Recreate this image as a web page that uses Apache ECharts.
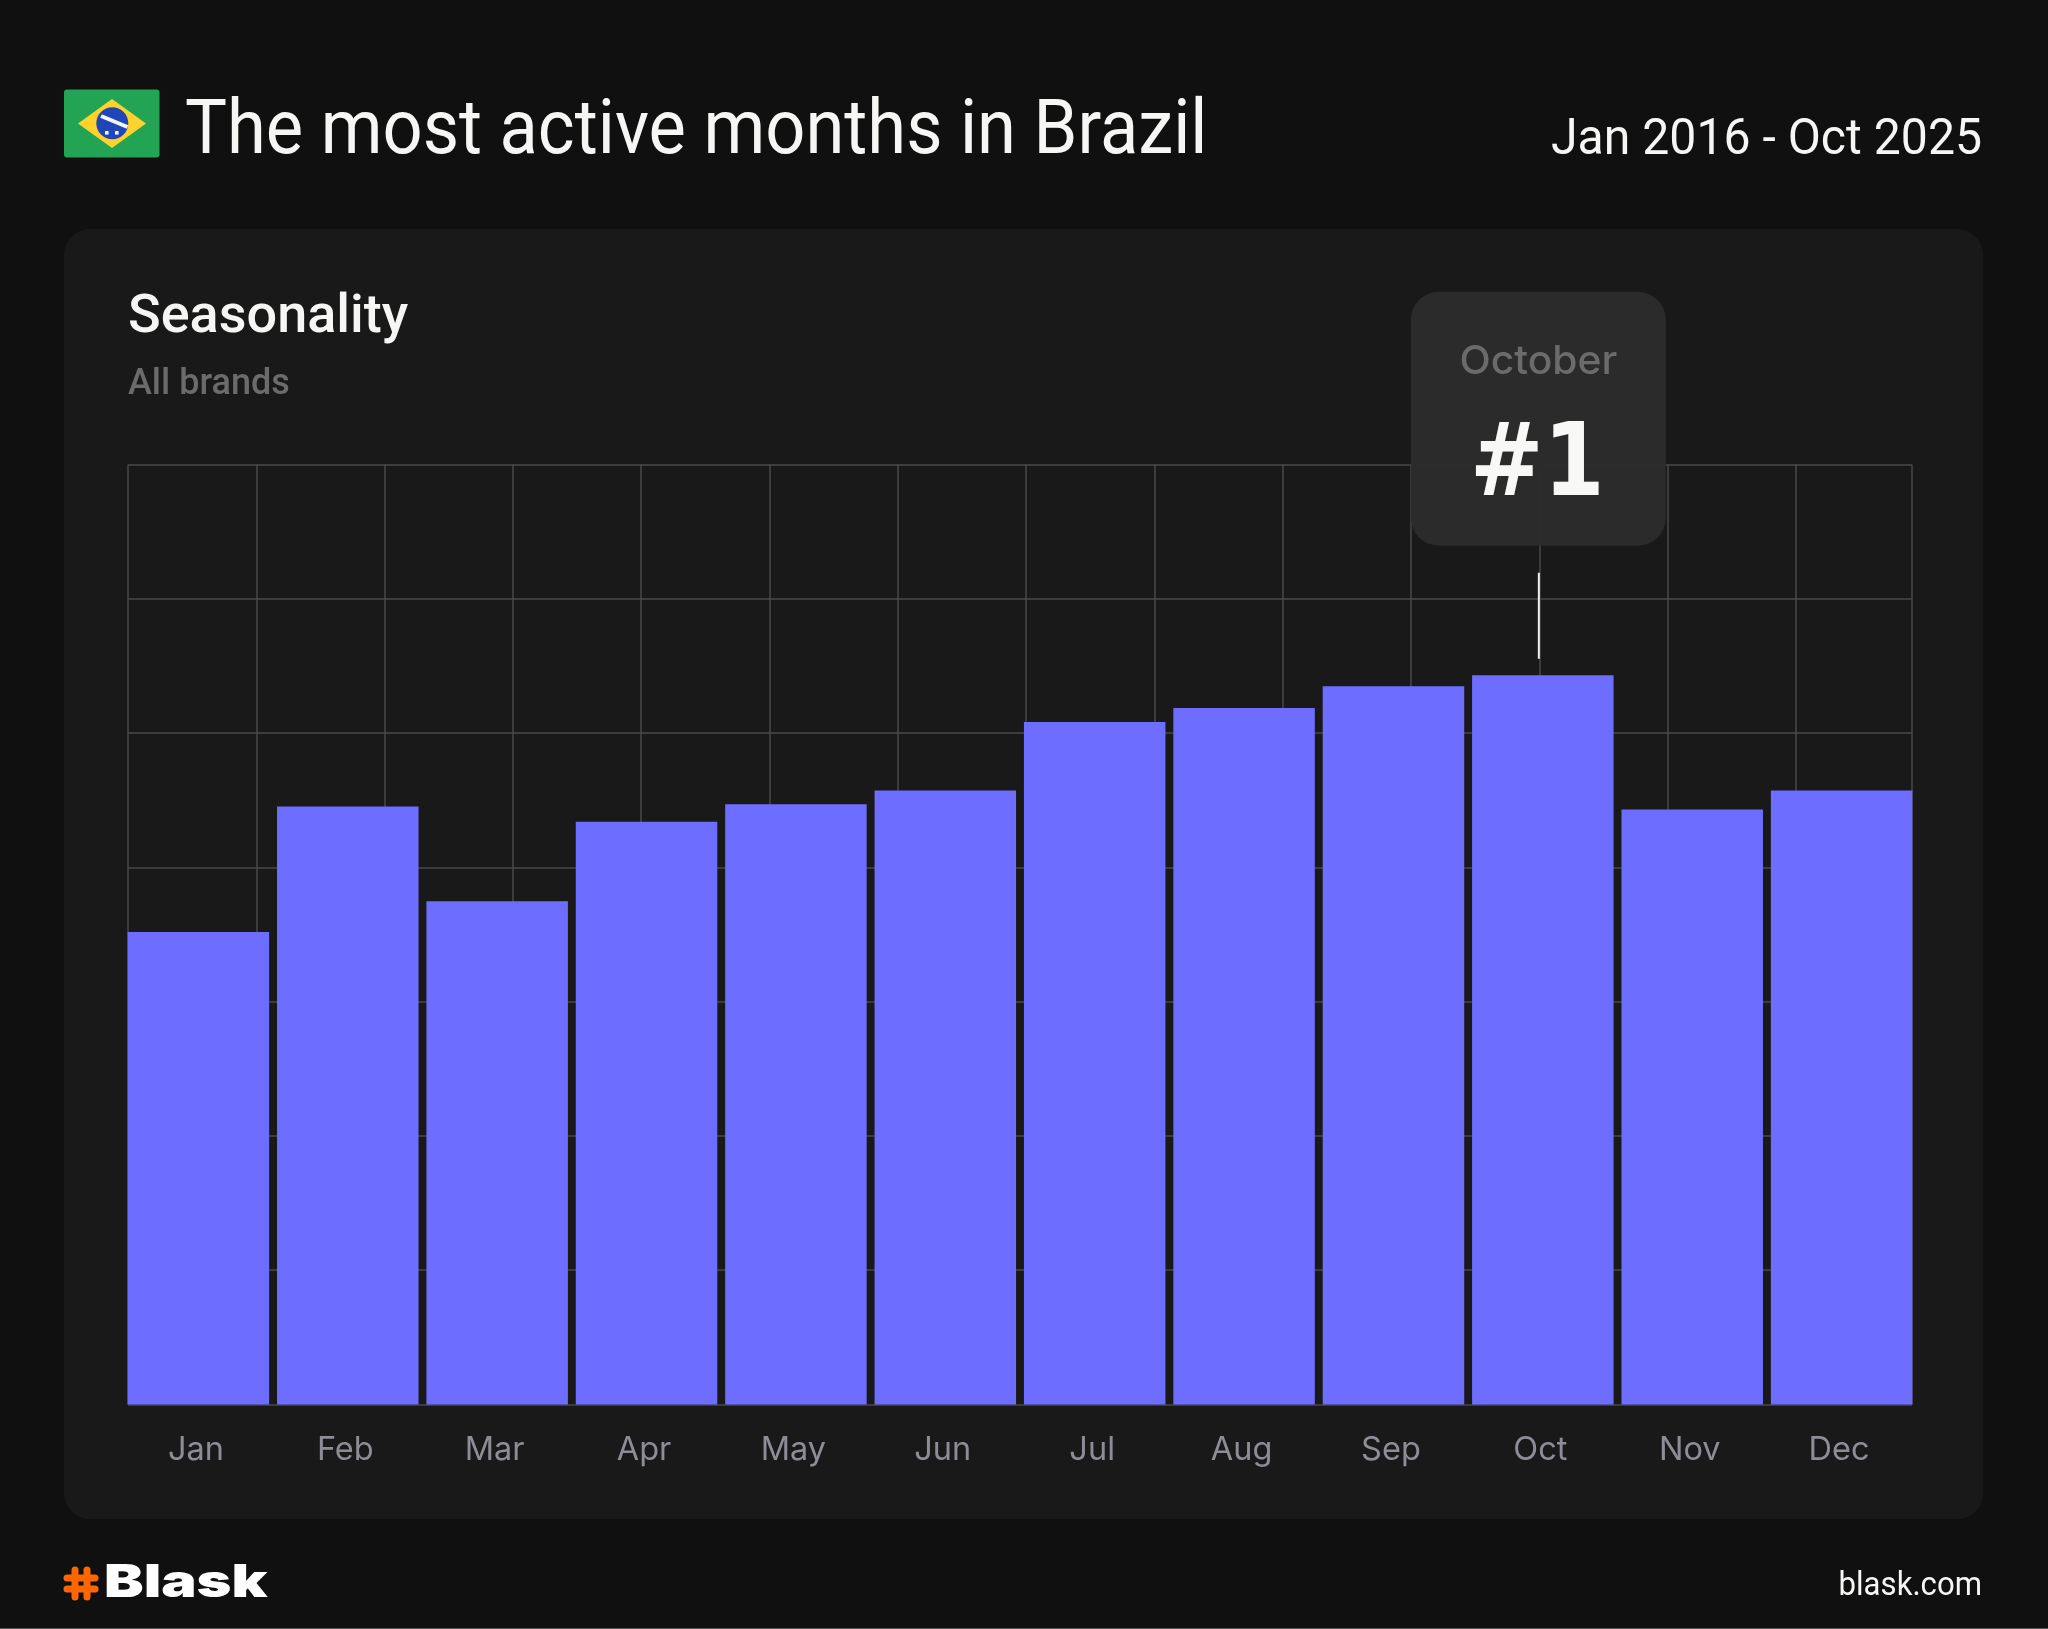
<!DOCTYPE html>
<html>
<head>
<meta charset="utf-8">
<style>html,body{margin:0;padding:0;background:#0f0f10}#c{width:2048px;height:1629px}</style>
<script src="https://cdn.jsdelivr.net/npm/echarts@6/dist/echarts.min.js"></script>
</head>
<body>
<div id="c"></div>
<script>
const months = ['Jan','Feb','Mar','Apr','May','Jun','Jul','Aug','Sep','Oct','Nov','Dec'];
// Seasonality index (October = 100)
const seasonality = [64.8,82.0,69.0,79.9,82.3,84.2,93.6,95.5,98.5,100,81.6,84.2];
const titleText = 'The most active months in Brazil';
const rangeText = 'Jan 2016 - Oct 2025';
const cardTitle = 'Seasonality';
const cardSubtitle = 'All brands';
const peakMonth = 'October';
const peakRank = '#1';
const peakIndex = 9;

const F = 'Inter, "Noto Sans", sans-serif';
const R = 'Roboto, Inter, sans-serif';
function txt(text,x,y,size,weight,color,align,opt){
  opt = opt||{};
  return {type:'text',x:x,y:y,z:opt.z||5,scaleX:opt.scaleX||1,silent:true,
    style:{text:text,x:0,y:0,fontSize:size,fontWeight:weight,fontFamily:opt.family||F,fill:color,
      textAlign:align||'left',textVerticalAlign:'middle'}};
}
function hashLine(x1,y1,x2,y2){
  return {type:'line',z:5,silent:true,shape:{x1,y1,x2,y2},style:{stroke:'#ff6600',lineWidth:7,lineCap:'round'}};
}
const chart = echarts.init(document.getElementById('c'),null,{renderer:'canvas'});
const base = [
  {type:'rect',z:-20,silent:true,shape:{x:64,y:229,width:1919,height:1290,r:26},style:{fill:'#191919'}},
  {type:'rect',z:-20,silent:true,shape:{x:0,y:1628,width:2048,height:1},style:{fill:'#555555'}},
  // flag
  {type:'rect',z:5,silent:true,shape:{x:64,y:89.5,width:95.5,height:68,r:3},style:{fill:'#23a455'}},
  {type:'polygon',z:6,silent:true,shape:{points:[[112,99],[146,123.5],[112,148],[78,123.5]]},style:{fill:'#fdd22c'}},
  {type:'ellipse',z:7,silent:true,shape:{cx:112.3,cy:123.3,rx:16,ry:16},style:{fill:'#1f45b8'}},
  {type:'line',z:8,silent:true,shape:{x1:101,y1:116,x2:127.5,y2:127},style:{stroke:'#f4f4f4',lineWidth:4}},
  {type:'rect',z:8,silent:true,shape:{x:105,y:131,width:3.6,height:3.6},style:{fill:'#f4f4f4'}},
  {type:'rect',z:8,silent:true,shape:{x:115,y:131,width:3.6,height:3.6},style:{fill:'#f4f4f4'}},
  // header
  txt(titleText,185,133.5,76,400,'#f6f6f4','left',{family:R,scaleX:0.927}),
  txt(rangeText,1982,141,50,400,'#f6f6f4','right',{family:R,scaleX:0.963}),
  txt(cardTitle,128,318.5,54,500,'#f6f6f4','left',{family:R}),
  txt(cardSubtitle,128,384.5,36,500,'#6b6b6b','left',{family:R}),
  // footer logo
  hashLine(75,1570,75,1597),hashLine(87,1570,87,1597),hashLine(67,1578,95,1578),hashLine(67,1589,95,1589),
  txt('Blask',104,1583,46,900,'#ffffff','left',{scaleX:1.29}),
  txt('blask.com',1982,1586.5,34,400,'#f6f6f4','right',{family:R,scaleX:0.916})
];
const option = {
  backgroundColor:'#101010',
  animation:false,
  grid:[
    {left:123.7,width:1792.6,top:464.5,height:940,containLabel:false},
    {left:128,width:1784,top:464.5,height:940,containLabel:false}
  ],
  xAxis:[
    {type:'category',gridIndex:0,data:months,
      axisLine:{show:false},axisTick:{show:false},splitLine:{show:false},
      axisLabel:{margin:29,fontSize:32.5,fontFamily:F,fontWeight:400,color:'#8e8c96',padding:[0,5,0,0]}},
    {type:'value',gridIndex:1,min:0,max:1784,interval:128.3,
      axisLine:{show:false},axisTick:{show:false},axisLabel:{show:false},
      splitLine:{show:true,lineStyle:{color:'#484848',width:1.5}}}
  ],
  yAxis:[
    {type:'value',gridIndex:0,min:0,max:128.9,show:false,splitLine:{show:false}},
    {type:'value',gridIndex:1,min:0,max:7,interval:1,
      axisLine:{show:false},axisTick:{show:false},axisLabel:{show:false},
      splitLine:{show:true,customValues:[0,1,2,3,4,5,5.985,7],lineStyle:{color:'#484848',width:1.5}}}
  ],
  series:[{type:'bar',xAxisIndex:0,yAxisIndex:0,data:seasonality,barWidth:141.5,
    itemStyle:{color:'#6d6dff'},z:3,silent:true}],
  graphic:{elements:base}
};
chart.setOption(option);
// Annotation anchored to the peak bar through the library's scale
const peakTop = chart.convertToPixel({seriesIndex:0},[peakIndex,seasonality[peakIndex]]);
const cx = peakTop[0]-4.5, ty = peakTop[1];
const annotation = [
  {type:'rect',z:10,silent:true,shape:{x:cx-127.5,y:ty-383.5,width:255,height:254,r:28},style:{fill:'rgba(44,44,44,0.96)'}},
  {type:'line',z:11,silent:true,shape:{x1:cx+0.5,y1:ty-102.5,x2:cx+0.5,y2:ty-16.5},style:{stroke:'#f0f0f0',lineWidth:2}},
  txt(peakMonth,cx,ty-313,40,500,'#6b6b6b','center',{z:12,scaleX:1.02}),
  txt(peakRank,cx-1,ty-207,102,700,'#f8f8f6','center',{z:12,family:'"DejaVu Sans"',scaleX:0.86})
];
chart.setOption({graphic:{elements:base.concat(annotation)}});
</script>
</body>
</html>
